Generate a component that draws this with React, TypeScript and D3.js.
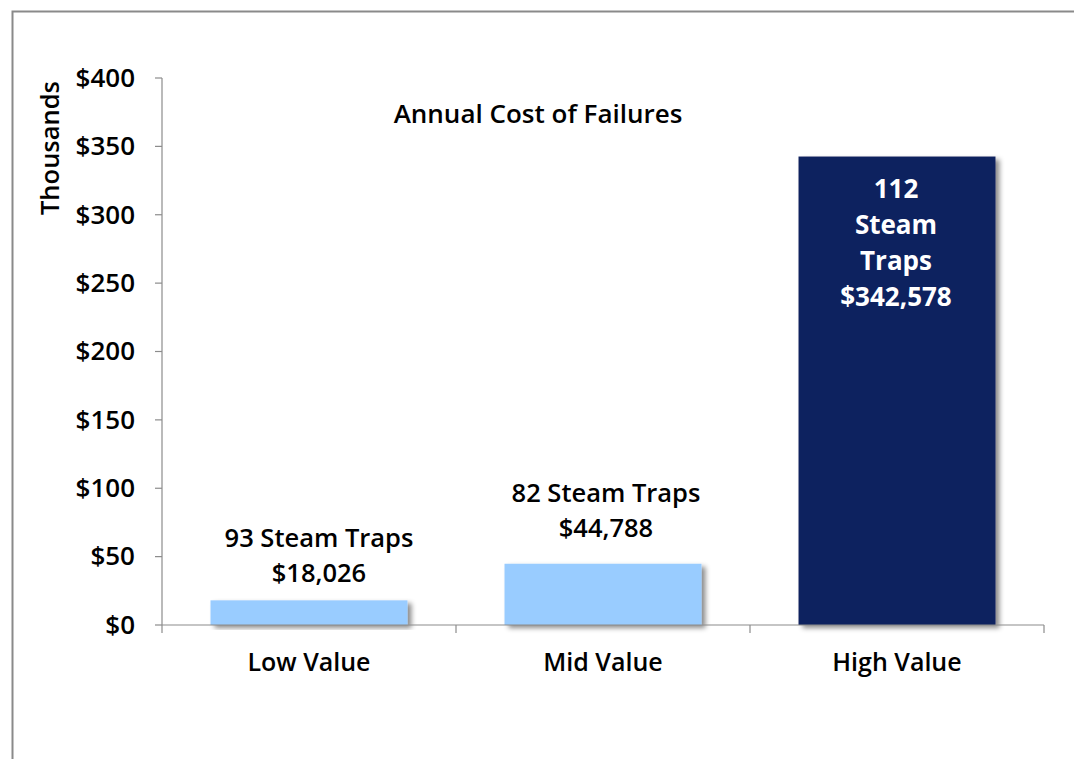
import React from "react";
import * as d3 from "d3";

const categories = ["Low Value", "Mid Value", "High Value"];
const values = [18.026, 44.788, 342.578]; // thousands of dollars
const trapCounts = [93, 82, 112];
const valueLabels = ["$18,026", "$44,788", "$342,578"];
const yTicks = [0, 50, 100, 150, 200, 250, 300, 350, 400];
const barColors = ["#99CCFF", "#99CCFF", "#10225E"];

const W = 1074;
const H = 759;
const left = 162;
const right = 1044;
const top = 78;
const bottom = 625;
const FONT = "'Open Sans', 'Noto Sans', sans-serif";
const WEIGHT = 600;
// label placement tweaks (outside-end labels for the two short bars)
const outsideDx = [10, 3];
const outsideGap = [18, 27];

export default function App() {
  const x = d3.scaleBand<string>().domain(categories).range([left, right]).paddingInner(0.33).paddingOuter(0.165);
  const xOuter = d3.scaleBand<string>().domain(categories).range([left, right]);
  const y = d3.scaleLinear().domain([0, 400]).range([bottom, top]);
  const axisColor = "#8c8c8c";

  return (
    <div style={{ position: "fixed", left: 0, top: 0, width: W, height: H, background: "#fff" }}>
      <svg width={W} height={H} style={{ display: "block" }}>
        <defs>
          <filter id="shadow" x="-10%" y="-10%" width="130%" height="130%">
            <feDropShadow dx="4" dy="3" stdDeviation="2.5" floodColor="#000" floodOpacity="0.45" />
          </filter>
        </defs>
        {/* frame */}
        <path d={`M12.5,${H} V11.5 H${W}`} fill="none" stroke="#8a8a8a" strokeWidth={2} />

        {/* bars */}
        {categories.map((c, i) => (
          <rect
            key={c}
            x={x(c)}
            y={y(values[i])}
            width={x.bandwidth()}
            height={y(0) - y(values[i])}
            fill={barColors[i]}
            filter="url(#shadow)"
          />
        ))}

        {/* y axis */}
        <line x1={left} x2={left} y1={top} y2={bottom} stroke={axisColor} strokeWidth={1.2} />
        {yTicks.map((t) => (
          <g key={t}>
            <line x1={left - 7} x2={left} y1={y(t)} y2={y(t)} stroke={axisColor} strokeWidth={1.2} />
            <text
              x={135}
              y={y(t)}
              dy="0.34em"
              textAnchor="end"
              fontFamily={FONT}
              fontWeight={WEIGHT}
              fontSize={26}
              fill="#000"
            >
              {d3.format("$,")(t)}
            </text>
          </g>
        ))}
        <text
          transform={`translate(59,${148}) rotate(-90)`}
          textAnchor="middle"
          fontFamily={FONT}
          fontWeight={WEIGHT}
          fontSize={25.5}
          fill="#000"
        >
          Thousands
        </text>

        {/* x axis */}
        <line x1={left} x2={right} y1={bottom} y2={bottom} stroke={axisColor} strokeWidth={1.2} />
        {[left, ...categories.map((c) => (xOuter(c) as number) + xOuter.bandwidth())].map((px, i) => (
          <line key={i} x1={px} x2={px} y1={bottom} y2={bottom + 8} stroke={axisColor} strokeWidth={1.2} />
        ))}
        {categories.map((c) => (
          <text
            key={c}
            x={(xOuter(c) as number) + xOuter.bandwidth() / 2}
            y={671}
            textAnchor="middle"
            fontFamily={FONT}
            fontWeight={WEIGHT}
            fontSize={25}
            fill="#000"
          >
            {c}
          </text>
        ))}

        {/* chart title */}
        <text x={538} y={123} textAnchor="middle" fontFamily={FONT} fontWeight={WEIGHT} fontSize={26} fill="#000">
          Annual Cost of Failures
        </text>

        {/* data labels */}
        {[0, 1].map((i) => {
          const cx = (x(categories[i]) as number) + x.bandwidth() / 2 + outsideDx[i];
          const base2 = y(values[i]) - outsideGap[i];
          return (
            <g key={i} fontFamily={FONT} fontWeight={WEIGHT} fontSize={25.5} fill="#000" textAnchor="middle">
              <text x={cx} y={base2 - 35}>{`${trapCounts[i]} Steam Traps`}</text>
              <text x={cx} y={base2}>{valueLabels[i]}</text>
            </g>
          );
        })}
        {(() => {
          const i = 2;
          const cx = (x(categories[i]) as number) + x.bandwidth() / 2 - 1;
          const y0 = y(values[i]) + 41;
          const lines = [`${trapCounts[i]}`, "Steam", "Traps", valueLabels[i]];
          return (
            <g fontFamily={FONT} fontWeight={700} fontSize={26} fill="#fff" textAnchor="middle">
              {lines.map((l, k) => (
                <text key={k} x={cx} y={y0 + k * 36}>{l}</text>
              ))}
            </g>
          );
        })()}
      </svg>
    </div>
  );
}
